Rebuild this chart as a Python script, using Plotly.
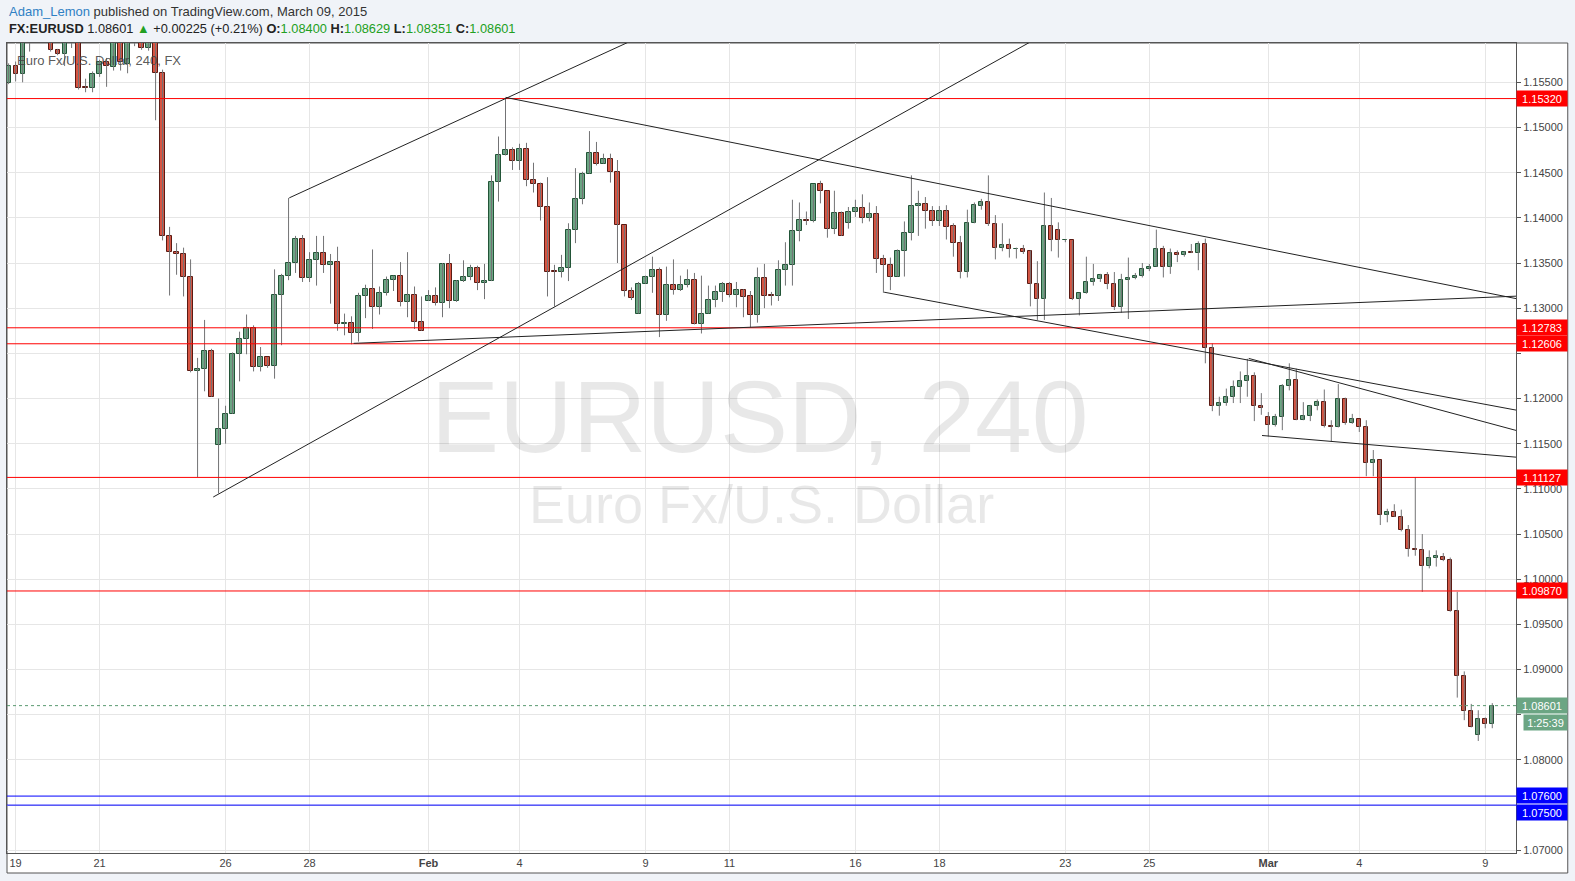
import plotly.graph_objects as go

# ---------------- data (4H bars, index 0 = Jan 19 first bar) ----------------
bar_index = list(range(-1, 212))

opens = [1.1549, 1.1568, 1.1559, 1.1600, 1.1610, 1.1620, 1.1605, 1.1586, 1.1581, 1.1600,
         1.1610, 1.1545, 1.1544, 1.1559, 1.1573, 1.1567, 1.1605, 1.1570, 1.1600, 1.1610,
         1.1588, 1.1615, 1.1560, 1.1380, 1.1362, 1.1360, 1.1334, 1.1230, 1.1233, 1.1253,
         1.1149, 1.1166, 1.1183, 1.1249, 1.1266, 1.1278, 1.1235, 1.1246, 1.1236, 1.1315,
         1.1336, 1.1350, 1.1377, 1.1333, 1.1353, 1.1361, 1.1348, 1.1351, 1.1283, 1.1284,
         1.1272, 1.1313, 1.1321, 1.1301, 1.1317, 1.1331, 1.1336, 1.1307, 1.1315, 1.1285,
         1.1308, 1.1313, 1.1306, 1.1349, 1.1308, 1.1330, 1.1335, 1.1345, 1.1328, 1.1330,
         1.1440, 1.1469, 1.1475, 1.1463, 1.1476, 1.1442, 1.1437, 1.1412, 1.1341, 1.1340,
         1.1345, 1.1387, 1.1421, 1.1449, 1.1472, 1.1460, 1.1465, 1.1451, 1.1392, 1.1319,
         1.1294, 1.1327, 1.1335, 1.1342, 1.1292, 1.1326, 1.1320, 1.1326, 1.1331, 1.1282,
         1.1294, 1.1309, 1.1318, 1.1327, 1.1315, 1.1320, 1.1313, 1.1292, 1.1333, 1.1315,
         1.1314, 1.1342, 1.1348, 1.1385, 1.1398, 1.1397, 1.1437, 1.1430, 1.1388, 1.1405,
         1.1394, 1.1406, 1.1411, 1.1400, 1.1404, 1.1354, 1.1348, 1.1335, 1.1363, 1.1383,
         1.1413, 1.1415, 1.1408, 1.1396, 1.1408, 1.1391, 1.1372, 1.1340, 1.1394, 1.1413,
         1.1417, 1.1393, 1.1367, 1.1370, 1.1365, 1.1366, 1.1363, 1.1327, 1.1310, 1.1391,
         1.1387, 1.1375, 1.1375, 1.1310, 1.1317, 1.1329, 1.1332, 1.1337, 1.1327, 1.1301,
         1.1331, 1.1333, 1.1336, 1.1343, 1.1346, 1.1365, 1.1346, 1.1361, 1.1359, 1.1362,
         1.1361, 1.1371, 1.1256, 1.1192, 1.1195, 1.1202, 1.1213, 1.1219, 1.1225, 1.1192,
         1.1180, 1.1171, 1.1180, 1.1214, 1.1221, 1.1176, 1.1181, 1.1192, 1.1196, 1.1170,
         1.1168, 1.1199, 1.1173, 1.1177, 1.1168, 1.1129, 1.1132, 1.1071, 1.1074, 1.1069,
         1.1054, 1.1034, 1.1032, 1.1015, 1.1024, 1.1025, 1.1021, 1.0965, 1.0893, 1.0854,
         1.0828, 1.0845, 1.08400]

highs = [1.1571, 1.1573, 1.1605, 1.1620, 1.1630, 1.1635, 1.1615, 1.1587, 1.1610, 1.1620,
         1.1615, 1.1554, 1.1562, 1.1575, 1.1577, 1.1610, 1.1615, 1.1610, 1.1625, 1.1620,
         1.1615, 1.1630, 1.1564, 1.1390, 1.1372, 1.1367, 1.1354, 1.1245, 1.1287, 1.1255,
         1.1200, 1.1192, 1.1251, 1.1274, 1.1293, 1.1281, 1.1257, 1.1246, 1.1343, 1.1338,
         1.1422, 1.1380, 1.1381, 1.1362, 1.1380, 1.1380, 1.1360, 1.1368, 1.1294, 1.1291,
         1.1317, 1.1326, 1.1365, 1.1324, 1.1335, 1.1336, 1.1351, 1.1362, 1.1324, 1.1313,
         1.1320, 1.1323, 1.1350, 1.1360, 1.1331, 1.1353, 1.1348, 1.1347, 1.1349, 1.1447,
         1.1490, 1.1532, 1.1478, 1.1482, 1.1483, 1.1461, 1.1439, 1.1445, 1.1348, 1.1359,
         1.1394, 1.1455, 1.1451, 1.1496, 1.1484, 1.1471, 1.1471, 1.1464, 1.1392, 1.1323,
         1.1329, 1.1336, 1.1357, 1.1345, 1.1346, 1.1354, 1.1336, 1.1343, 1.1339, 1.1336,
         1.1325, 1.1325, 1.1329, 1.1329, 1.1329, 1.1321, 1.1319, 1.1345, 1.1349, 1.1318,
         1.1353, 1.1373, 1.1420, 1.1417, 1.1407, 1.1437, 1.1441, 1.1430, 1.1430, 1.1407,
         1.1412, 1.1420, 1.1426, 1.1417, 1.1413, 1.1359, 1.1356, 1.1365, 1.1396, 1.1447,
         1.1430, 1.1423, 1.1413, 1.1413, 1.1414, 1.1394, 1.1380, 1.1409, 1.1417, 1.1421,
         1.1447, 1.1403, 1.1394, 1.1377, 1.1367, 1.1370, 1.1364, 1.1352, 1.1428, 1.1422,
         1.1395, 1.1376, 1.1375, 1.1317, 1.1357, 1.1349, 1.1338, 1.1340, 1.1340, 1.1338,
         1.1356, 1.1339, 1.1350, 1.1349, 1.1387, 1.1369, 1.1366, 1.1364, 1.1363, 1.1371,
         1.1374, 1.1377, 1.1261, 1.1202, 1.1211, 1.1220, 1.1230, 1.1244, 1.1229, 1.1206,
         1.1185, 1.1183, 1.1216, 1.1239, 1.1233, 1.1196, 1.1193, 1.1199, 1.1210, 1.1176,
         1.1216, 1.1201, 1.1183, 1.1177, 1.1176, 1.1143, 1.1132, 1.1078, 1.1083, 1.1077,
         1.1060, 1.1113, 1.1050, 1.1032, 1.1032, 1.1029, 1.1024, 1.0986, 1.0898, 1.0862,
         1.0855, 1.0847, 1.08629]

lows = [1.1548, 1.1551, 1.1550, 1.1584, 1.1595, 1.1600, 1.1584, 1.1580, 1.1568, 1.1588,
        1.1542, 1.1539, 1.1539, 1.1556, 1.1545, 1.1563, 1.1563, 1.1560, 1.1590, 1.1586,
        1.1585, 1.1508, 1.1375, 1.1314, 1.1337, 1.1313, 1.1229, 1.1113, 1.1208, 1.1202,
        1.1095, 1.1150, 1.1183, 1.1219, 1.1249, 1.1230, 1.1230, 1.1234, 1.1222, 1.1259,
        1.1331, 1.1339, 1.1329, 1.1329, 1.1325, 1.1339, 1.1305, 1.1275, 1.1270, 1.1260,
        1.1263, 1.1289, 1.1277, 1.1293, 1.1314, 1.1319, 1.1302, 1.1290, 1.1277, 1.1275,
        1.1308, 1.1303, 1.1290, 1.1300, 1.1307, 1.1329, 1.1331, 1.1320, 1.1310, 1.1330,
        1.1418, 1.1469, 1.1453, 1.1453, 1.1435, 1.1428, 1.1397, 1.1313, 1.1302, 1.1334,
        1.1330, 1.1372, 1.1415, 1.1449, 1.1458, 1.1460, 1.1439, 1.1350, 1.1313, 1.1309,
        1.1294, 1.1327, 1.1317, 1.1268, 1.1286, 1.1315, 1.1319, 1.1323, 1.1282, 1.1272,
        1.1294, 1.1301, 1.1307, 1.1312, 1.1301, 1.1290, 1.1279, 1.1284, 1.1300, 1.1303,
        1.1308, 1.1325, 1.1325, 1.1374, 1.1392, 1.1395, 1.1416, 1.1378, 1.1382, 1.1380,
        1.1388, 1.1401, 1.1394, 1.1396, 1.1339, 1.1317, 1.1320, 1.1335, 1.1335, 1.1375,
        1.1380, 1.1388, 1.1391, 1.1391, 1.1376, 1.1357, 1.1333, 1.1334, 1.1394, 1.1409,
        1.1391, 1.1354, 1.1363, 1.1356, 1.1355, 1.1360, 1.1302, 1.1287, 1.1287, 1.1363,
        1.1356, 1.1373, 1.1309, 1.1292, 1.1316, 1.1325, 1.1329, 1.1321, 1.1298, 1.1295,
        1.1288, 1.1332, 1.1334, 1.1341, 1.1346, 1.1334, 1.1338, 1.1351, 1.1357, 1.1361,
        1.1342, 1.1239, 1.1186, 1.1181, 1.1192, 1.1195, 1.1195, 1.1202, 1.1175, 1.1182,
        1.1158, 1.1169, 1.1165, 1.1209, 1.1176, 1.1176, 1.1175, 1.1187, 1.1168, 1.1152,
        1.1168, 1.1171, 1.1172, 1.1163, 1.1114, 1.1114, 1.1060, 1.1063, 1.1069, 1.1053,
        1.1025, 1.1026, 1.0986, 1.1012, 1.1014, 1.1020, 1.0964, 1.0869, 1.0844, 1.0836,
        1.0821, 1.0835, 1.08351]

closes = [1.1568, 1.1559, 1.1600, 1.1610, 1.1620, 1.1605, 1.1586, 1.1581, 1.1600, 1.1610,
          1.1544, 1.1544, 1.1559, 1.1572, 1.1568, 1.1600, 1.1573, 1.1600, 1.1610, 1.1588,
          1.1600, 1.1560, 1.1380, 1.1362, 1.1360, 1.1334, 1.1230, 1.1233, 1.1253, 1.1202,
          1.1166, 1.1183, 1.1249, 1.1266, 1.1278, 1.1235, 1.1246, 1.1236, 1.1315, 1.1336,
          1.1350, 1.1377, 1.1333, 1.1353, 1.1361, 1.1348, 1.1351, 1.1283, 1.1284, 1.1272,
          1.1313, 1.1321, 1.1301, 1.1317, 1.1331, 1.1336, 1.1307, 1.1315, 1.1285, 1.1275,
          1.1313, 1.1306, 1.1349, 1.1308, 1.1330, 1.1335, 1.1345, 1.1328, 1.1330, 1.1440,
          1.1469, 1.1475, 1.1463, 1.1476, 1.1442, 1.1437, 1.1412, 1.1340, 1.1340, 1.1345,
          1.1387, 1.1421, 1.1449, 1.1472, 1.1460, 1.1465, 1.1451, 1.1392, 1.1319, 1.1311,
          1.1327, 1.1335, 1.1342, 1.1292, 1.1326, 1.1320, 1.1326, 1.1331, 1.1282, 1.1294,
          1.1309, 1.1318, 1.1327, 1.1315, 1.1320, 1.1312, 1.1292, 1.1333, 1.1314, 1.1314,
          1.1342, 1.1348, 1.1385, 1.1398, 1.1397, 1.1437, 1.1430, 1.1388, 1.1405, 1.1380,
          1.1406, 1.1411, 1.1400, 1.1404, 1.1354, 1.1348, 1.1335, 1.1363, 1.1383, 1.1413,
          1.1415, 1.1408, 1.1396, 1.1408, 1.1390, 1.1372, 1.1340, 1.1394, 1.1414, 1.1417,
          1.1393, 1.1367, 1.1370, 1.1365, 1.1366, 1.1362, 1.1327, 1.1310, 1.1391, 1.1375,
          1.1375, 1.13753, 1.1310, 1.1317, 1.1329, 1.1332, 1.1337, 1.1327, 1.1301, 1.1331,
          1.1333, 1.1336, 1.1343, 1.1346, 1.1365, 1.1346, 1.1361, 1.1359, 1.1362, 1.1361,
          1.1371, 1.1256, 1.1192, 1.1195, 1.1202, 1.1213, 1.1219, 1.1225, 1.1192, 1.1189,
          1.1171, 1.1180, 1.1214, 1.1221, 1.1176, 1.1181, 1.1192, 1.1196, 1.1170, 1.1168,
          1.1199, 1.1173, 1.1177, 1.1168, 1.1129, 1.1132, 1.1071, 1.1074, 1.1069, 1.1054,
          1.1034, 1.1032, 1.1015, 1.1024, 1.1026, 1.1021, 1.0965, 1.0893, 1.0854, 1.0836,
          1.0845, 1.0840, 1.08601]

tick_pos = [0, 12, 30, 42, 59, 72, 90, 102, 120, 132, 150, 162, 179, 192, 210]
tick_text = ['19', '21', '26', '28', '<b>Feb</b>', '4', '9', '11', '16', '18',
             '23', '25', '<b>Mar</b>', '4', '9']

price_ticks = [round(1.070 + 0.005 * k, 3) for k in range(18)]
hidden_price_ticks = [1.075, 1.085, 1.125]   # covered by the level labels

red_levels = [1.15320, 1.12783, 1.12606, 1.11127, 1.09870]
blue_levels = [1.07600, 1.07500]
last_price = 1.08601
countdown = '1:25:39'

# trend lines drawn on the chart: (bar index, price) endpoints
trend_lines = [
    ((39.1, 1.14221), (88.0, 1.15960)),
    ((28.24, 1.10910), (146.0, 1.15990)),
    ((70.0, 1.15333), (214.4, 1.13106)),
    ((48.3, 1.12611), (214.4, 1.13133)),
    ((124.1, 1.13177), (214.4, 1.11872)),
    ((176.2, 1.12444), (214.4, 1.11647)),
    ((178.1, 1.11591), (214.4, 1.11351)),
]

# ---------------- styling ----------------
UP_FILL, UP_LINE = '#6ba583', '#225437'
DN_FILL, DN_LINE = '#d75442', '#5b1a13'
WICK = '#737375'
GRID = '#e6e6e6'
FRAME = '#555555'
FONT = 'Liberation Sans, Arial, sans-serif'

X_RANGE = [-1.23, 214.39]
Y_RANGE = [1.0697, 1.15935]

fig = go.Figure()

# wicks
wx, wy = [], []
for i, h, l in zip(bar_index, highs, lows):
    wx += [i, i, None]
    wy += [l, h, None]
fig.add_trace(go.Scatter(x=wx, y=wy, mode='lines', line=dict(color=WICK, width=1),
                         hoverinfo='skip', showlegend=False))

# bodies
base, height, fills, borders = [], [], [], []
for o, c in zip(opens, closes):
    lo, hi = min(o, c), max(o, c)
    h = max(hi - lo, 0.00004)
    base.append(lo if hi - lo >= 0.00004 else (lo + hi) / 2 - 0.00002)
    height.append(h)
    up = c >= o
    fills.append(UP_FILL if up else DN_FILL)
    borders.append(UP_LINE if up else DN_LINE)
fig.add_trace(go.Bar(x=bar_index, y=height, base=base, width=0.6,
                     marker=dict(color=fills, line=dict(color=borders, width=1)),
                     hoverinfo='skip', showlegend=False))

shapes = []
# outer frame incl. axis label areas
shapes.append(dict(type='rect', xref='paper', yref='paper', x0=0, x1=1.0343, y0=-0.0247, y1=1,
                   line=dict(color=FRAME, width=1), fillcolor='white', layer='below'))
for lv in red_levels:
    shapes.append(dict(type='line', xref='paper', yref='y', x0=0, x1=1, y0=lv, y1=lv,
                       line=dict(color='#ff0000', width=1)))
for lv in blue_levels:
    shapes.append(dict(type='line', xref='paper', yref='y', x0=0, x1=1, y0=lv, y1=lv,
                       line=dict(color='#0000ff', width=1)))
shapes.append(dict(type='line', xref='paper', yref='y', x0=0, x1=1, y0=last_price, y1=last_price,
                   line=dict(color='#5a9a70', width=1, dash='dot')))
for (x0, y0), (x1, y1) in trend_lines:
    shapes.append(dict(type='line', xref='x', yref='y', x0=x0, y0=y0, x1=x1, y1=y1,
                       line=dict(color='#222222', width=1)))

annotations = []
# watermark
annotations.append(dict(text='EURUSD, 240', xref='paper', yref='paper', x=0.499, y=0.538,
                        showarrow=False, font=dict(family=FONT, size=102, color='rgba(0,0,0,0.09)')))
annotations.append(dict(text='Euro Fx/U.S. Dollar', xref='paper', yref='paper', x=0.5, y=0.431,
                        showarrow=False, font=dict(family=FONT, size=54, color='rgba(0,0,0,0.09)')))
# legend text
annotations.append(dict(text='Euro Fx/U.S. Dollar, 240, FX', xref='paper', yref='paper',
                        x=0.0053, y=0.979, xanchor='left', yanchor='middle', showarrow=False,
                        font=dict(family=FONT, size=13, color='rgba(70,70,70,0.9)')))
# header
annotations.append(dict(
    text="<span style='color:#2f80c4'>Adam_Lemon</span> published on TradingView.com, March 09, 2015",
    xref='paper', yref='paper', x=0, y=1.0395, xanchor='left', yanchor='middle',
    showarrow=False, font=dict(family=FONT, size=13, color='#333333')))
G = '#22a022'
annotations.append(dict(
    text=("<b>FX:EURUSD</b> 1.08601 <span style='color:%s'>▲</span> +0.00225 (+0.21%%) "
          "<b>O:</b><span style='color:%s'>1.08400</span> <b>H:</b><span style='color:%s'>1.08629</span> "
          "<b>L:</b><span style='color:%s'>1.08351</span> <b>C:</b><span style='color:%s'>1.08601</span>")
         % (G, G, G, G, G),
    xref='paper', yref='paper', x=0, y=1.0173, xanchor='left', yanchor='middle',
    showarrow=False, font=dict(family=FONT, size=12.8, color='#222222')))

# price labels on right axis
def price_label(y, bg, text=None, yshift=0, xshift=0, width=46):
    return dict(text=text if text is not None else f'{y:.5f}', xref='paper', yref='y', x=1, y=y,
                xanchor='left', yanchor='middle', showarrow=False, xshift=xshift, yshift=yshift,
                bgcolor=bg, borderpad=2, width=width, height=11, align='center',
                font=dict(family=FONT, size=11, color='white'))

for lv in red_levels:
    annotations.append(price_label(lv, '#ff0000'))
# the two blue labels are stacked so they don't cover each other
annotations.append(price_label(blue_levels[0], '#0000ff', yshift=1))
annotations.append(price_label(blue_levels[1], '#0000ff', yshift=-7))
annotations.append(price_label(last_price, '#6ba583'))
annotations.append(price_label(last_price, '#6ba583', text=countdown, yshift=-17, xshift=7, width=39))

price_ticktext = ['' if v in hidden_price_ticks else f'{v:.5f}' for v in price_ticks]

fig.update_layout(
    width=1575, height=881, autosize=False,
    margin=dict(l=7, r=59, t=43, b=28),
    paper_bgcolor='#f0f3f8', plot_bgcolor='white',
    barmode='overlay', bargap=0, showlegend=False,
    shapes=shapes, annotations=annotations,
    xaxis=dict(range=X_RANGE, tickvals=tick_pos, ticktext=tick_text, showgrid=True,
               gridcolor=GRID, gridwidth=1, zeroline=False, showline=True, linecolor=FRAME,
               mirror=True, ticks='', tickfont=dict(family=FONT, size=11, color='#444444'),
               fixedrange=True),
    yaxis=dict(range=Y_RANGE, side='right', tickvals=price_ticks,
               ticktext=price_ticktext, showgrid=True, gridcolor=GRID,
               zeroline=False, showline=True, linecolor=FRAME, mirror=True, ticks='outside',
               ticklen=4, tickcolor=FRAME, tickfont=dict(family=FONT, size=11, color='#444444'),
               fixedrange=True),
)

fig.write_html('out.html', config={'displayModeBar': False},
               post_script="document.body.style.margin='0';document.body.style.overflow='hidden';")
